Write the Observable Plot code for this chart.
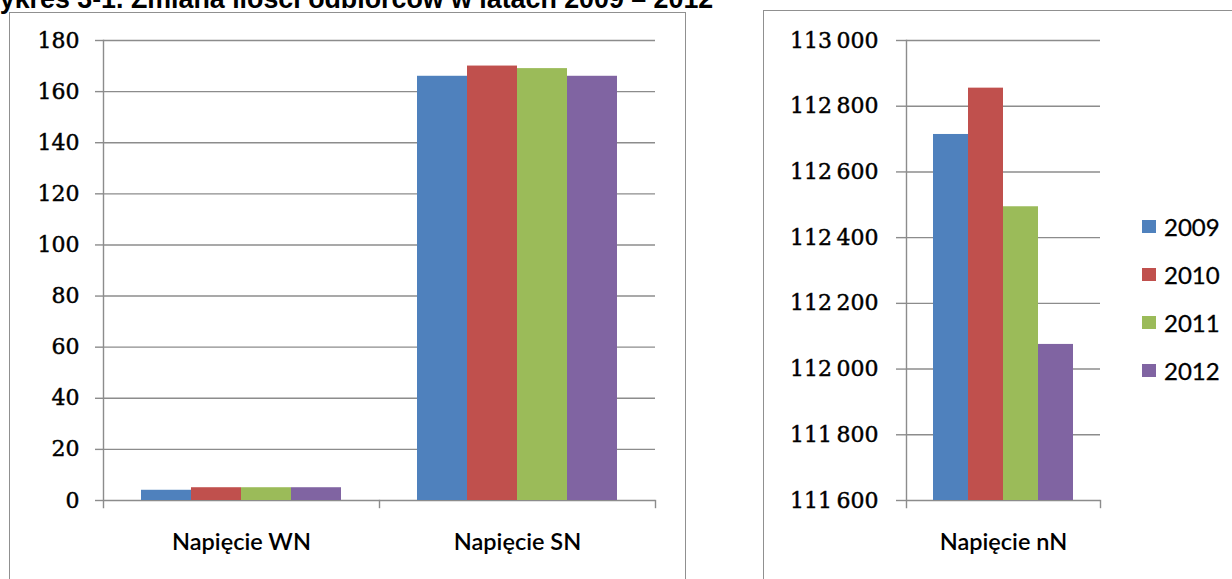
<!DOCTYPE html>
<html><head><meta charset="utf-8">
<script src="https://cdn.jsdelivr.net/npm/d3@7"></script>
<script src="https://cdn.jsdelivr.net/npm/@observablehq/plot@0.6"></script>
<style>
body{margin:0;width:1232px;height:579px;overflow:hidden;background:#fff;position:relative;font-family:Lato,sans-serif}
#title{position:absolute;left:-25px;top:-14px;font:bold 26.8px "Liberation Sans",Arial,sans-serif;line-height:1;white-space:nowrap;color:#000}
.panel{position:absolute;border:1.5px solid #909090;background:#fff;box-sizing:border-box}
#p1{left:9px;top:12px;width:677px;height:620px}
#p2{left:763px;top:10px;width:520px;height:620px}
#c1{position:absolute;left:0;top:0}
#c2{position:absolute;left:764px;top:0}
#c1 g[aria-label="y-axis tick label"] text, #c2 g[aria-label="y-axis tick label"] text{stroke:#000;stroke-width:0.45px}
#legend{position:absolute;left:1142px;top:202px;font-size:24px;color:#000;-webkit-text-stroke:0.3px #000}
#legend .row{display:flex;align-items:center;height:48px}
#legend .sw{width:14px;height:13px;margin-right:8px}
</style></head>
<body>
<div id="title">Wykres 3-1. Zmiana ilości odbiorców w latach 2009 – 2012</div>
<div class="panel" id="p1"></div>
<div class="panel" id="p2"></div>
<div id="c1"></div>
<div id="c2"></div>
<div id="legend"></div>
<script>
const catsLeft = ["Napięcie WN", "Napięcie SN"];
const catsRight = ["Napięcie nN"];
const years = ["2009", "2010", "2011", "2012"];
const valuesWN = [4, 5, 5, 5];
const valuesSN = [166, 170, 169, 166];
const valuesNN = [112714, 112855, 112494, 112075];
const colors = ["#4F81BD", "#C0504D", "#9BBB59", "#8064A2"];
const ticksLeft = [0, 20, 40, 60, 80, 100, 120, 140, 160, 180];
const ticksRight = [111600, 111800, 112000, 112200, 112400, 112600, 112800, 113000];

const dataLeft = [
  ...years.map((y, i) => ({cat: catsLeft[0], year: y, value: valuesWN[i]})),
  ...years.map((y, i) => ({cat: catsLeft[1], year: y, value: valuesSN[i]}))
];
const dataRight = years.map((y, i) => ({cat: catsRight[0], year: y, value: valuesNN[i]}));

const fmtSpace = d => d3.format(",")(d).replace(/,/g, "\u2009");
const gridColor = "#8c8c8c";

function chart({data, cats, ticks, width, height, ml, mr, mt, mb, tickSize, tickPadding, fmt}) {
  const ph = height - mt - mb;
  return Plot.plot({
    width, height, marginLeft: ml, marginRight: mr, marginTop: mt, marginBottom: mb,
    style: {background: "none", overflow: "visible"},
    fx: {domain: cats, padding: 0, label: null},
    x: {domain: years, paddingInner: 0, paddingOuter: 0.74, axis: null},
    y: {domain: [ticks[0], ticks[ticks.length - 1]], label: null},
    color: {domain: years, range: colors},
    marks: [
      Plot.gridY(ticks, {stroke: gridColor, strokeOpacity: 1, strokeWidth: 1.4}),
      Plot.axisY(ticks, {tickSize, tickPadding, stroke: gridColor, strokeWidth: 1.4, strokeOpacity: 1,
        fontSize: 22, fontFamily: "DejaVu Serif", fill: "#000", tickFormat: fmt, label: null}),
      Plot.barY(data, {fx: "cat", x: "year", y1: ticks[0], y2: "value", fill: "year"}),
      Plot.frame({anchor: "right", insetTop: ph, insetBottom: -7, stroke: gridColor, strokeWidth: 1.4}),
      Plot.frame({anchor: "left", facet: "super", insetBottom: -7, stroke: gridColor, strokeWidth: 1.4}),
      Plot.axisFx({anchor: "bottom", tickSize: 0, tickPadding: 33, fontSize: 23.5, fontFamily: "Lato",
        fontWeight: 600, fill: "#000", label: null})
    ]
  });
}

document.getElementById("c1").append(chart({data: dataLeft, cats: catsLeft, ticks: ticksLeft,
  width: 686, height: 579, ml: 103, mr: 31, mt: 40, mb: 79, tickSize: 8, tickPadding: 16, fmt: d3.format("d")}));
document.getElementById("c2").append(chart({data: dataRight, cats: catsRight, ticks: ticksRight,
  width: 468, height: 579, ml: 142, mr: 132, mt: 40, mb: 79, tickSize: 10, tickPadding: 18, fmt: fmtSpace}));

const legend = document.getElementById("legend");
years.forEach((y, i) => {
  const row = document.createElement("div");
  row.className = "row";
  const sw = document.createElement("div");
  sw.className = "sw";
  sw.style.background = colors[i];
  const t = document.createElement("span");
  t.textContent = y;
  row.append(sw, t);
  legend.append(row);
});
</script>
</body></html>
